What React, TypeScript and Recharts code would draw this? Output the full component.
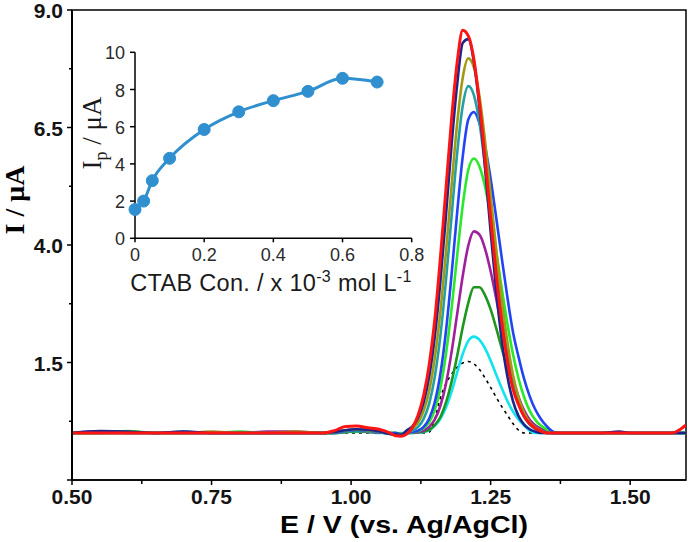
import React from 'react';
import { LineChart, Line, XAxis, YAxis, ReferenceArea } from 'recharts';

// ---- main voltammograms: potential grid (V) ----
const potentialLow = [0.5, 0.55, 0.6, 0.65, 0.7, 0.75, 0.8, 0.85, 0.9, 0.95, 0.97, 0.99, 1.01, 1.03, 1.05, 1.07];
const potentialPeak = [1.08, 1.09, 1.1, 1.11, 1.12, 1.13, 1.14, 1.15, 1.16, 1.17, 1.18, 1.19, 1.2, 1.21, 1.22, 1.23, 1.24, 1.25, 1.26, 1.27, 1.28, 1.29, 1.3, 1.31, 1.32, 1.33, 1.34, 1.35, 1.36, 1.37];
const potentialHigh = [1.4, 1.45, 1.48, 1.5, 1.55, 1.575, 1.59, 1.6];
const potential = [...potentialLow, ...potentialPeak, ...potentialHigh];

// ---- currents (µA), one array per CTAB concentration ----
const iBlank = [
  0, 0, 0, 0, 0, 0, 0, 0, 0, 0, 0, 0, 0, 0, 0, 0,
  0, 0, 0, 0, 0, 0, 0.02, 0.3, 0.75, 1.05, 1.25, 1.4, 1.49, 1.52, 1.47, 1.35, 1.17, 0.97, 0.76, 0.56, 0.38, 0.2, 0.06, 0, 0, 0, 0, 0, 0, 0,
  0, 0, 0, 0, 0, 0, 0, 0,
];
const iCyan = [
  0, 0, 0, 0, 0, 0, 0, 0, 0, 0, 0, 0.02, 0.03, 0.02, 0, 0,
  0, 0, 0, 0, 0.01, 0.02, 0.06, 0.15, 0.3, 0.54, 0.88, 1.29, 1.68, 1.96, 2.05, 1.98, 1.8, 1.54, 1.24, 0.95, 0.68, 0.46, 0.29, 0.16, 0.05, 0, 0, 0, 0, 0,
  0, 0, 0, 0, 0, 0, 0, 0,
];
const iDarkGreen = [
  0, 0, 0.03, 0, 0, 0, 0, 0, 0, 0, 0, 0.02, 0.04, 0.03, 0.01, 0,
  0, -0.02, 0, 0, 0.01, 0.03, 0.07, 0.17, 0.34, 0.65, 1.09, 1.64, 2.25, 2.77, 3.1, 3.1, 2.93, 2.63, 2.23, 1.8, 1.37, 0.99, 0.68, 0.44, 0.27, 0.16, 0.09, 0.04, 0, 0,
  0, 0, 0, 0, 0, 0, 0, 0,
];
const iPurple = [
  0, 0, 0, 0, 0, 0, 0, 0.03, 0.03, 0, 0, 0.03, 0.05, 0.03, 0.01, 0,
  0, -0.02, 0, 0.01, 0.02, 0.05, 0.13, 0.29, 0.58, 1.05, 1.72, 2.53, 3.34, 3.99, 4.29, 4.22, 3.92, 3.44, 2.86, 2.24, 1.66, 1.16, 0.77, 0.48, 0.28, 0.16, 0.08, 0.03, 0, 0,
  0, 0, 0, 0, 0, 0, 0, 0,
];
const iGreen = [
  0, 0, 0.04, 0, 0, 0, 0.03, 0, 0, 0, 0, 0.03, 0.05, 0.04, 0.02, 0,
  0, -0.02, 0, 0.01, 0.04, 0.1, 0.23, 0.49, 0.96, 1.68, 2.64, 3.77, 4.84, 5.6, 5.84, 5.67, 5.24, 4.61, 3.86, 3.07, 2.33, 1.68, 1.16, 0.76, 0.47, 0.28, 0.16, 0.08, 0.03, 0,
  0, 0, 0, 0, 0, 0, 0, 0,
];
const iBlue = [
  0, 0.03, 0, 0, 0, 0, 0, 0, 0, 0, 0, 0.04, 0.06, 0.05, 0.02, -0.01,
  0, -0.03, 0, 0.02, 0.05, 0.13, 0.31, 0.66, 1.26, 2.17, 3.37, 4.69, 5.88, 6.67, 6.83, 6.59, 6.1, 5.41, 4.58, 3.72, 2.89, 2.15, 1.62, 1.15, 0.78, 0.5, 0.3, 0.15, 0.04, 0,
  0, 0, 0, 0, 0, 0, 0, 0,
];
const iTeal = [
  0, 0, 0, 0, 0.03, 0, 0, 0, 0, 0, 0.01, 0.05, 0.07, 0.06, 0.03, -0.02,
  -0.03, -0.04, 0.02, 0.05, 0.13, 0.3, 0.63, 1.2, 2.07, 3.25, 4.61, 5.95, 6.96, 7.38, 7.19, 6.6, 5.68, 4.59, 3.48, 2.49, 1.67, 1.05, 0.62, 0.35, 0.18, 0.09, 0.03, 0, 0, 0,
  0, 0, 0, 0, 0, 0, 0, 0,
];
const iOlive = [
  0, 0, 0, 0, 0, 0.03, 0, 0, 0.03, 0, 0.02, 0.06, 0.08, 0.06, 0.04, -0.02,
  -0.03, -0.04, 0.04, 0.1, 0.22, 0.47, 0.9, 1.6, 2.59, 3.85, 5.26, 6.58, 7.56, 7.97, 7.78, 7.16, 6.21, 5.07, 3.91, 2.83, 1.94, 1.24, 0.76, 0.43, 0.23, 0.12, 0.05, 0, 0, 0,
  0, 0, 0, 0, 0, 0, 0, 0,
];
const iNavy = [
  0, 0.04, 0.03, 0, 0.03, 0, 0, 0, 0, 0, 0.02, 0.06, 0.08, 0.07, 0.04, -0.02,
  -0.03, -0.04, 0.06, 0.14, 0.32, 0.65, 1.21, 2.06, 3.23, 4.64, 6.13, 7.41, 8.3, 8.38, 7.9, 6.92, 5.64, 4.28, 3.02, 1.97, 1.2, 0.68, 0.36, 0.18, 0.08, 0.03, 0, 0, 0, 0,
  0, 0, 0.03, 0, 0, 0, 0, 0,
];
const iRed = [
  0, 0, 0, 0, 0, 0, 0, 0, 0, 0, 0.05, 0.14, 0.15, 0.11, 0.08, 0,
  -0.06, -0.07, -0.02, 0.12, 0.38, 0.8, 1.46, 2.42, 3.73, 5.2, 6.68, 7.88, 8.57, 8.45, 7.95, 7.01, 5.83, 4.57, 3.37, 2.35, 1.54, 0.94, 0.6, 0.35, 0.2, 0.1, 0.04, 0, 0, 0,
  0, 0, 0, 0, 0, 0, 0.08, 0.17,
];

const seriesKeys = ['blank', 'cyan', 'darkGreen', 'purple', 'green', 'blue', 'teal', 'olive', 'navy', 'red'];
const seriesValues = [iBlank, iCyan, iDarkGreen, iPurple, iGreen, iBlue, iTeal, iOlive, iNavy, iRed];
const seriesColors = ['#000000', '#10e4ee', '#1c961c', '#a0209c', '#2ae82a', '#2244f4', '#22a0a6', '#a09a14', '#1c248c', '#ff1414'];

const xTicks = [0.5, 0.625, 0.75, 0.875, 1.0, 1.125, 1.25, 1.375, 1.5];
const xMajor = [0.5, 0.75, 1.0, 1.25, 1.5];
const yTicks = [-1, 0.25, 1.5, 2.75, 4, 5.25, 6.5, 7.75, 9];
const yMajor = [1.5, 4, 6.5, 9];

// ---- inset: peak current vs CTAB concentration ----
const ctabConc = [0, 0.025, 0.05, 0.1, 0.2, 0.3, 0.4, 0.5, 0.6, 0.7];
const peakCurrent = [1.55, 2.0, 3.1, 4.3, 5.85, 6.8, 7.4, 7.9, 8.6, 8.4];
const insetXTicks = [0, 0.2, 0.4, 0.6, 0.8];
const insetYTicks = [0, 2, 4, 6, 8, 10];

const rows = potential.map((e, i) => {
  const r: any = { e };
  seriesKeys.forEach((k, j) => {
    r[k] = seriesValues[j][i];
  });
  return r;
});
const insetRows = ctabConc.map((c, i) => ({ c, ip: peakCurrent[i] }));

const SANS = '"Liberation Sans", Arial, Helvetica, sans-serif';
const SERIF = '"Liberation Serif", "Times New Roman", serif';

const isIn = (arr: number[], v: number) => arr.some((a) => Math.abs(a - v) < 1e-6);

const XTick = (props: any) => {
  const { x, y, payload } = props;
  const v = payload.value;
  const major = isIn(xMajor, v);
  return (
    <g>
      <line x1={x} y1={y} x2={x} y2={y + (major ? 5 : 4)} stroke="#000" strokeWidth={1.5} />
      {major && (
        <text x={x} y={y + 24} textAnchor="middle" fontFamily={SANS} fontWeight="bold" fontSize={21} fill="#141414">
          {v.toFixed(2)}
        </text>
      )}
    </g>
  );
};

const YTick = (props: any) => {
  const { x, y, payload } = props;
  const v = payload.value;
  const major = isIn(yMajor, v) || Math.abs(v + 1) < 1e-6;
  const labelled = isIn(yMajor, v);
  return (
    <g>
      <line x1={x - (major ? 5 : 3)} y1={y} x2={x} y2={y} stroke="#000" strokeWidth={1.5} />
      {labelled && (
        <text x={x - 9} y={y + 8} textAnchor="end" fontFamily={SANS} fontWeight="bold" fontSize={21} fill="#141414">
          {v.toFixed(1)}
        </text>
      )}
    </g>
  );
};

const InsetXTick = (props: any) => {
  const { x, y, payload } = props;
  const v = payload.value;
  return (
    <g>
      <line x1={x} y1={y} x2={x} y2={y + 4} stroke="#000" strokeWidth={1.5} />
      <text x={x} y={y + 23} textAnchor="middle" fontFamily={SANS} fontSize={18} fill="#2a2a2a">
        {v === 0 ? '0' : v.toFixed(1)}
      </text>
    </g>
  );
};

const InsetYTick = (props: any) => {
  const { x, y, payload } = props;
  const v = payload.value;
  return (
    <g>
      <line x1={x - 5} y1={y} x2={x} y2={y} stroke="#000" strokeWidth={1.5} />
      <text x={x - 10} y={y + 7} textAnchor="end" fontFamily={SANS} fontSize={18} fill="#2a2a2a">
        {String(v)}
      </text>
    </g>
  );
};

const XTitle = () => (
  <text x={404} y={533} textAnchor="middle" fontFamily={SANS} fontWeight="bold" fontSize={23} fill="#000" textLength={248} lengthAdjust="spacingAndGlyphs">
    E / V (vs. Ag/AgCl)
  </text>
);

const YTitle = () => (
  <text transform="translate(24,200) rotate(-90)" textAnchor="middle" fontFamily={SERIF} fontWeight="bold" fontSize={28} fill="#000">
    I / μA
  </text>
);

const InsetXTitle = () => (
  <text x={271} y={291} textAnchor="middle" fontFamily={SANS} fontSize={23.5} fill="#1a1a1a" letterSpacing={0.3}>
    CTAB Con. / x 10
    <tspan dy={-9} fontSize={16}>-3</tspan>
    <tspan dy={9}> mol L</tspan>
    <tspan dy={-9} fontSize={16}>-1</tspan>
  </text>
);

const InsetYTitle = () => (
  <text transform="translate(101,133) rotate(-90)" textAnchor="middle" fontFamily={SERIF} fontSize={27} fill="#1a1a1a">
    I<tspan dy={6} fontSize={18}>p</tspan>
    <tspan dy={-6}> / μA</tspan>
  </text>
);

export default function App() {
  return (
    <div style={{ position: 'absolute', left: 0, top: 0, width: 688, height: 542, background: '#fff' }}>
      <div style={{ position: 'absolute', left: 0, top: 0 }}>
        <LineChart width={688} height={542} data={rows} margin={{ top: 10, right: 2, bottom: 0, left: 0 }}>
          <XAxis
            dataKey="e"
            type="number"
            domain={[0.5, 1.6]}
            ticks={xTicks}
            interval={0}
            tick={<XTick />}
            tickLine={false}
            tickSize={0}
            tickMargin={0}
            height={62}
            axisLine={{ stroke: '#000', strokeWidth: 1.5 }}
            allowDataOverflow
            label={<XTitle />}
          />
          <YAxis
            type="number"
            domain={[-1, 9]}
            ticks={yTicks}
            interval={0}
            tick={<YTick />}
            tickLine={false}
            tickSize={0}
            tickMargin={0}
            width={72}
            axisLine={{ stroke: '#000', strokeWidth: 2 }}
            allowDataOverflow
            label={<YTitle />}
          />
          <ReferenceArea x1={0.5} x2={1.6} y1={-1} y2={9} fill="none" stroke="#000" strokeWidth={1.5} />
          {seriesKeys.map((k, j) => (
            <Line
              key={k}
              dataKey={k}
              type="monotone"
              stroke={seriesColors[j]}
              strokeWidth={k === 'red' ? 3 : k === 'blank' ? 1.6 : 2.6}
              strokeDasharray={k === 'blank' ? '3 4' : undefined}
              dot={false}
              activeDot={false}
              isAnimationActive={false}
            />
          ))}
        </LineChart>
      </div>
      <div style={{ position: 'absolute', left: 0, top: 0 }}>
        <LineChart width={440} height={300} data={insetRows} margin={{ top: 52.3, right: 28.3, bottom: 0, left: 0 }}>
          <XAxis
            dataKey="c"
            type="number"
            domain={[0, 0.8]}
            ticks={insetXTicks}
            interval={0}
            tick={<InsetXTick />}
            tickLine={false}
            tickSize={0}
            tickMargin={0}
            height={61.7}
            axisLine={{ stroke: '#000', strokeWidth: 1.5 }}
            label={<InsetXTitle />}
          />
          <YAxis
            type="number"
            domain={[0, 10]}
            ticks={insetYTicks}
            interval={0}
            tick={<InsetYTick />}
            tickLine={false}
            tickSize={0}
            tickMargin={0}
            width={135}
            axisLine={{ stroke: '#000', strokeWidth: 1.5 }}
            label={<InsetYTitle />}
          />
          <Line
            dataKey="ip"
            type="monotone"
            stroke="#2f8fcf"
            strokeWidth={3}
            dot={{ r: 6, fill: '#2f8fcf', stroke: '#2f8fcf', strokeWidth: 1 }}
            activeDot={false}
            isAnimationActive={false}
          />
        </LineChart>
      </div>
    </div>
  );
}
